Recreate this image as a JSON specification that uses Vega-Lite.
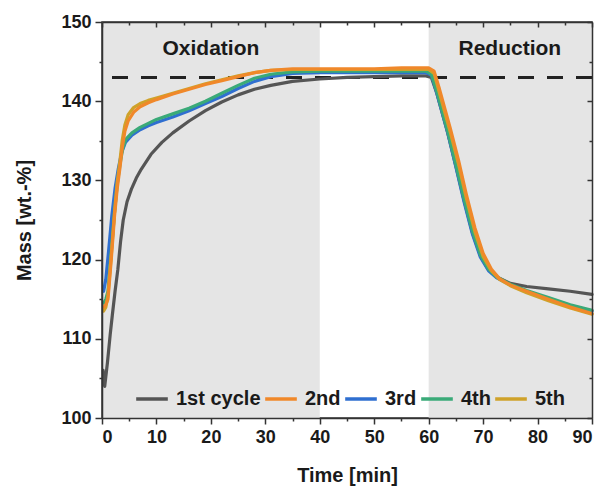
{
"$schema":"https://vega.github.io/schema/vega-lite/v6.json",
"width":490,"height":396,
"autosize":{"type":"none"},
"padding":{"left":102,"top":22,"right":13,"bottom":68},
"background":"white",
"config":{
 "view":{"stroke":"#333","strokeWidth":1.5},
 "font":"Liberation Sans",
 "axis":{"labelFont":"Liberation Sans","labelFontSize":18,"labelFontWeight":"bold","labelColor":"#1a1a1a","titleFont":"Liberation Sans","titleFontSize":20,"titleFontWeight":"bold","titleColor":"#1a1a1a","domainColor":"#333","domainWidth":1.5,"tickColor":"#333","tickWidth":1.5,"grid":false},
 "legend":{"labelFont":"Liberation Sans","labelFontSize":20,"labelFontWeight":"bold","labelColor":"#1a1a1a"}
},
"layer":[
 {"data":{"values":[{"start":0,"end":40},{"start":60,"end":90}]},
  "mark":{"type":"rect","color":"#e5e5e5"},
  "encoding":{"x":{"field":"start","type":"quantitative","scale":{"domain":[0,90],"nice":false},
     "axis":{"orient":"top","zindex":1,"values":[0,5,10,15,20,25,30,35,40,45,50,55,60,65,70,75,80,85,90],"labels":false,"title":null,"tickSize":{"condition":{"test":"datum.value % 10 !== 0","value":-3},"value":-5}}},
   "x2":{"field":"end"}}},
 {"data":{"values":[{"level":143}]},
  "mark":{"type":"rule","color":"#222","strokeWidth":3,"strokeDash":[16,13]},
  "encoding":{"y":{"field":"level","type":"quantitative","scale":{"domain":[100,150],"nice":false},
     "axis":{"orient":"right","zindex":1,"values":[100,105,110,115,120,125,130,135,140,145,150],"labels":false,"title":null,"tickSize":{"condition":{"test":"datum.value % 10 !== 0","value":-3},"value":-5}}}}},
 {"data":{"values":[
{"cycle":"1st cycle","t":0.2,"m":106},{"cycle":"1st cycle","t":0.5,"m":104},{"cycle":"1st cycle","t":1.0,"m":107},{"cycle":"1st cycle","t":1.5,"m":110.5},{"cycle":"1st cycle","t":1.9,"m":113},{"cycle":"1st cycle","t":2.4,"m":116},{"cycle":"1st cycle","t":2.9,"m":118.7},{"cycle":"1st cycle","t":3.4,"m":122.2},{"cycle":"1st cycle","t":3.9,"m":125},{"cycle":"1st cycle","t":4.6,"m":127.3},{"cycle":"1st cycle","t":5.4,"m":128.9},{"cycle":"1st cycle","t":6.3,"m":130.3},{"cycle":"1st cycle","t":7.2,"m":131.4},{"cycle":"1st cycle","t":9,"m":133.3},{"cycle":"1st cycle","t":11,"m":134.8},{"cycle":"1st cycle","t":13,"m":136},{"cycle":"1st cycle","t":16,"m":137.5},{"cycle":"1st cycle","t":19,"m":138.8},{"cycle":"1st cycle","t":22,"m":139.9},{"cycle":"1st cycle","t":25,"m":140.8},{"cycle":"1st cycle","t":28,"m":141.5},{"cycle":"1st cycle","t":31,"m":142},{"cycle":"1st cycle","t":35,"m":142.5},{"cycle":"1st cycle","t":40,"m":142.8},{"cycle":"1st cycle","t":45,"m":143},{"cycle":"1st cycle","t":50,"m":143.1},{"cycle":"1st cycle","t":55,"m":143.2},{"cycle":"1st cycle","t":59.5,"m":143.2},{"cycle":"1st cycle","t":60.5,"m":143},{"cycle":"1st cycle","t":61.5,"m":141},{"cycle":"1st cycle","t":62.5,"m":138.5},{"cycle":"1st cycle","t":63.5,"m":136},{"cycle":"1st cycle","t":65,"m":131.8},{"cycle":"1st cycle","t":66.5,"m":127.5},{"cycle":"1st cycle","t":68,"m":123.5},{"cycle":"1st cycle","t":69.5,"m":120.5},{"cycle":"1st cycle","t":71,"m":118.7},{"cycle":"1st cycle","t":72.5,"m":117.8},{"cycle":"1st cycle","t":75,"m":117},{"cycle":"1st cycle","t":78,"m":116.6},{"cycle":"1st cycle","t":82,"m":116.3},{"cycle":"1st cycle","t":86,"m":116},{"cycle":"1st cycle","t":90,"m":115.6},
{"cycle":"3rd","t":0.3,"m":116},{"cycle":"3rd","t":0.7,"m":117.5},{"cycle":"3rd","t":1.2,"m":121},{"cycle":"3rd","t":1.8,"m":125.5},{"cycle":"3rd","t":2.4,"m":129},{"cycle":"3rd","t":3,"m":131.5},{"cycle":"3rd","t":3.6,"m":133.5},{"cycle":"3rd","t":4.3,"m":134.8},{"cycle":"3rd","t":5.5,"m":135.7},{"cycle":"3rd","t":7,"m":136.4},{"cycle":"3rd","t":8.5,"m":136.9},{"cycle":"3rd","t":10,"m":137.3},{"cycle":"3rd","t":13,"m":138},{"cycle":"3rd","t":16,"m":138.8},{"cycle":"3rd","t":19,"m":139.7},{"cycle":"3rd","t":22,"m":140.6},{"cycle":"3rd","t":25,"m":141.6},{"cycle":"3rd","t":28,"m":142.5},{"cycle":"3rd","t":31,"m":143.1},{"cycle":"3rd","t":35,"m":143.5},{"cycle":"3rd","t":40,"m":143.6},{"cycle":"3rd","t":50,"m":143.6},{"cycle":"3rd","t":55,"m":143.6},{"cycle":"3rd","t":59.5,"m":143.6},{"cycle":"3rd","t":60.5,"m":143.3},{"cycle":"3rd","t":61.5,"m":141},{"cycle":"3rd","t":62.5,"m":138.5},{"cycle":"3rd","t":63.5,"m":136},{"cycle":"3rd","t":65,"m":131.7},{"cycle":"3rd","t":66.5,"m":127.3},{"cycle":"3rd","t":68,"m":123.3},{"cycle":"3rd","t":69.5,"m":120.3},{"cycle":"3rd","t":71,"m":118.6},{"cycle":"3rd","t":72.5,"m":117.7},{"cycle":"3rd","t":75,"m":116.8},{"cycle":"3rd","t":78,"m":116},{"cycle":"3rd","t":82,"m":115.1},{"cycle":"3rd","t":86,"m":114.2},{"cycle":"3rd","t":90,"m":113.5},
{"cycle":"4th","t":0.3,"m":114.5},{"cycle":"4th","t":0.7,"m":115},{"cycle":"4th","t":1.1,"m":116},{"cycle":"4th","t":1.7,"m":121},{"cycle":"4th","t":2.3,"m":126},{"cycle":"4th","t":2.8,"m":129.5},{"cycle":"4th","t":3.3,"m":132},{"cycle":"4th","t":3.8,"m":134},{"cycle":"4th","t":4.4,"m":135.2},{"cycle":"4th","t":5.5,"m":136},{"cycle":"4th","t":7,"m":136.7},{"cycle":"4th","t":8.5,"m":137.2},{"cycle":"4th","t":10,"m":137.7},{"cycle":"4th","t":13,"m":138.4},{"cycle":"4th","t":16,"m":139.1},{"cycle":"4th","t":19,"m":140},{"cycle":"4th","t":22,"m":141},{"cycle":"4th","t":25,"m":142},{"cycle":"4th","t":28,"m":142.9},{"cycle":"4th","t":31,"m":143.4},{"cycle":"4th","t":35,"m":143.7},{"cycle":"4th","t":40,"m":143.8},{"cycle":"4th","t":50,"m":143.8},{"cycle":"4th","t":55,"m":143.8},{"cycle":"4th","t":59.5,"m":143.8},{"cycle":"4th","t":60.5,"m":143.4},{"cycle":"4th","t":61.5,"m":141.2},{"cycle":"4th","t":62.5,"m":138.7},{"cycle":"4th","t":63.5,"m":136.2},{"cycle":"4th","t":65,"m":132},{"cycle":"4th","t":66.5,"m":127.7},{"cycle":"4th","t":68,"m":123.7},{"cycle":"4th","t":69.5,"m":120.6},{"cycle":"4th","t":71,"m":118.8},{"cycle":"4th","t":72.5,"m":117.8},{"cycle":"4th","t":75,"m":116.9},{"cycle":"4th","t":78,"m":116.1},{"cycle":"4th","t":82,"m":115.2},{"cycle":"4th","t":86,"m":114.3},{"cycle":"4th","t":90,"m":113.6},
{"cycle":"5th","t":0.3,"m":113.5},{"cycle":"5th","t":0.7,"m":114},{"cycle":"5th","t":1.1,"m":115.5},{"cycle":"5th","t":1.7,"m":120.5},{"cycle":"5th","t":2.3,"m":126},{"cycle":"5th","t":2.8,"m":129.8},{"cycle":"5th","t":3.3,"m":132.5},{"cycle":"5th","t":3.7,"m":135},{"cycle":"5th","t":4.2,"m":137},{"cycle":"5th","t":4.8,"m":138.3},{"cycle":"5th","t":5.8,"m":139.2},{"cycle":"5th","t":7,"m":139.7},{"cycle":"5th","t":8.5,"m":140.1},{"cycle":"5th","t":10,"m":140.4},{"cycle":"5th","t":13,"m":141},{"cycle":"5th","t":16,"m":141.6},{"cycle":"5th","t":19,"m":142.2},{"cycle":"5th","t":22,"m":142.7},{"cycle":"5th","t":25,"m":143.2},{"cycle":"5th","t":28,"m":143.6},{"cycle":"5th","t":31,"m":143.9},{"cycle":"5th","t":35,"m":144},{"cycle":"5th","t":40,"m":144},{"cycle":"5th","t":50,"m":144},{"cycle":"5th","t":55,"m":144},{"cycle":"5th","t":60,"m":144},{"cycle":"5th","t":61,"m":143.5},{"cycle":"5th","t":62,"m":141},{"cycle":"5th","t":63,"m":138.5},{"cycle":"5th","t":64,"m":136},{"cycle":"5th","t":65.5,"m":132},{"cycle":"5th","t":67,"m":127.5},{"cycle":"5th","t":68.5,"m":123.5},{"cycle":"5th","t":70,"m":120.4},{"cycle":"5th","t":71.5,"m":118.6},{"cycle":"5th","t":73,"m":117.5},{"cycle":"5th","t":75,"m":116.7},{"cycle":"5th","t":78,"m":115.8},{"cycle":"5th","t":82,"m":114.8},{"cycle":"5th","t":86,"m":113.9},{"cycle":"5th","t":90,"m":113.1},
{"cycle":"2nd","t":0.3,"m":114},{"cycle":"2nd","t":0.7,"m":114.3},{"cycle":"2nd","t":1.1,"m":115},{"cycle":"2nd","t":1.7,"m":120},{"cycle":"2nd","t":2.3,"m":125.5},{"cycle":"2nd","t":2.8,"m":129},{"cycle":"2nd","t":3.3,"m":131.6},{"cycle":"2nd","t":3.7,"m":134},{"cycle":"2nd","t":4.2,"m":136.2},{"cycle":"2nd","t":4.8,"m":137.5},{"cycle":"2nd","t":5.8,"m":138.6},{"cycle":"2nd","t":7,"m":139.3},{"cycle":"2nd","t":8.5,"m":139.8},{"cycle":"2nd","t":10,"m":140.2},{"cycle":"2nd","t":13,"m":140.9},{"cycle":"2nd","t":16,"m":141.5},{"cycle":"2nd","t":19,"m":142.1},{"cycle":"2nd","t":22,"m":142.6},{"cycle":"2nd","t":25,"m":143.1},{"cycle":"2nd","t":28,"m":143.6},{"cycle":"2nd","t":31,"m":143.9},{"cycle":"2nd","t":35,"m":144.1},{"cycle":"2nd","t":40,"m":144.1},{"cycle":"2nd","t":45,"m":144.1},{"cycle":"2nd","t":50,"m":144.1},{"cycle":"2nd","t":55,"m":144.2},{"cycle":"2nd","t":60,"m":144.2},{"cycle":"2nd","t":61,"m":143.8},{"cycle":"2nd","t":62,"m":141.5},{"cycle":"2nd","t":63,"m":139},{"cycle":"2nd","t":64,"m":136.5},{"cycle":"2nd","t":65.5,"m":132.5},{"cycle":"2nd","t":67,"m":128},{"cycle":"2nd","t":68.5,"m":124},{"cycle":"2nd","t":70,"m":120.8},{"cycle":"2nd","t":71.5,"m":118.8},{"cycle":"2nd","t":73,"m":117.6},{"cycle":"2nd","t":75,"m":116.8},{"cycle":"2nd","t":78,"m":116},{"cycle":"2nd","t":82,"m":115},{"cycle":"2nd","t":86,"m":114},{"cycle":"2nd","t":90,"m":113.2}
 ]},
  "mark":{"type":"line","strokeWidth":3.2,"strokeJoin":"round","strokeCap":"round"},
  "encoding":{
   "x":{"field":"t","type":"quantitative","scale":{"domain":[0,90],"nice":false},
        "axis":{"orient":"bottom","zindex":1,"values":[0,5,10,15,20,25,30,35,40,45,50,55,60,65,70,75,80,85,90],"labelExpr":"datum.value % 10 === 0 ? datum.label : ''","tickSize":{"condition":{"test":"datum.value % 10 !== 0","value":3},"value":6},"labelPadding":4,"title":"Time [min]","titlePadding":19}},
   "y":{"field":"m","type":"quantitative","scale":{"domain":[100,150],"nice":false},
        "axis":{"orient":"left","zindex":1,"values":[100,105,110,115,120,125,130,135,140,145,150],"labelExpr":"datum.value % 10 === 0 ? datum.label : ''","tickSize":{"condition":{"test":"datum.value % 10 !== 0","value":3},"value":7},"labelPadding":4,"title":"Mass [wt.-%]","titlePadding":26}},
   "color":{"field":"cycle","type":"nominal",
     "scale":{"domain":["1st cycle","2nd","3rd","4th","5th"],"range":["#555555","#f0882a","#2f6fd0","#3aaa78","#cfa22a"]},
     "legend":{"title":null,"orient":"none","direction":"horizontal","legendX":32,"legendY":359,"symbolType":"stroke","symbolSize":1000,"symbolStrokeWidth":3.5,"labelOffset":6,"columnPadding":-3,"fillColor":null,"strokeColor":null}}
  }},
 {"data":{"values":[{"label":"Oxidation","t":20,"m":146.65},{"label":"Reduction","t":74.9,"m":146.65}]},
  "mark":{"type":"text","font":"Liberation Sans","fontSize":21,"fontWeight":"bold","color":"#1a1a1a","align":"center","baseline":"middle"},
  "encoding":{
   "x":{"field":"t","type":"quantitative","scale":{"domain":[0,90],"nice":false},"axis":null},
   "y":{"field":"m","type":"quantitative","scale":{"domain":[100,150],"nice":false},"axis":null},
   "text":{"field":"label"}
  }}
],
"resolve":{"axis":{"x":"independent","y":"independent"}}
}
